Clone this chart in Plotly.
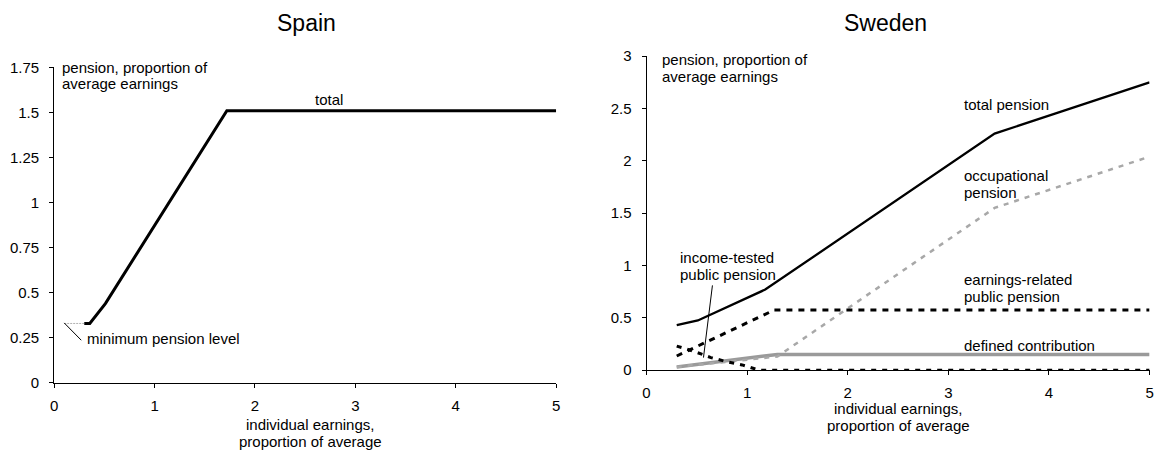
import plotly.graph_objects as go

# ---------------- data ----------------
# Spain
spain_x = [0.30, 0.355, 0.51, 1.72, 5.0]
spain_total = [0.33, 0.33, 0.44, 1.51, 1.51]
spain_min_x = [0.10, 0.30]
spain_min_level = [0.33, 0.33]

# Sweden
swe_total_x = [0.30, 0.51, 1.18, 3.46, 5.0]
swe_total = [0.43, 0.475, 0.77, 2.26, 2.75]
swe_occ_x = [0.30, 1.30, 3.46, 5.0]
swe_occ = [0.03, 0.13, 1.55, 2.04]
swe_dc_x = [0.30, 1.30, 5.0]
swe_dc = [0.03, 0.15, 0.15]
swe_earn_x = [0.30, 1.27, 5.0]
swe_earn = [0.135, 0.575, 0.575]
swe_inc_x = [0.30, 0.47, 0.64, 0.80, 0.95, 1.12, 5.0]
swe_inc = [0.23, 0.18, 0.12, 0.08, 0.05, 0.0, 0.0]

spain_yticks = [0, 0.25, 0.5, 0.75, 1, 1.25, 1.5, 1.75]
spain_ytext = ["0", "0.25", "0.5", "0.75", "1", "1.25", "1.5", "1.75"]
swe_yticks = [0, 0.5, 1, 1.5, 2, 2.5, 3]
swe_ytext = ["0", "0.5", "1", "1.5", "2", "2.5", "3"]
xticks = [0, 1, 2, 3, 4, 5]
xtext = ["0", "1", "2", "3", "4", "5"]

FONT = "Arial, Liberation Sans, sans-serif"
FS = 15
W, H = 1161, 460
GRAY = "#9a9a9a"

fig = go.Figure()

# Spain traces
fig.add_trace(go.Scatter(x=spain_min_x, y=spain_min_level, mode="lines",
                         line=dict(color="#b0b0b0", width=1, dash="2px,1px"),
                         xaxis="x", yaxis="y", cliponaxis=False, showlegend=False))
fig.add_trace(go.Scatter(x=spain_x, y=spain_total, mode="lines",
                         line=dict(color="black", width=3),
                         xaxis="x", yaxis="y", cliponaxis=False, showlegend=False))

# Sweden traces
fig.add_trace(go.Scatter(x=swe_dc_x, y=swe_dc, mode="lines",
                         line=dict(color=GRAY, width=3.5),
                         xaxis="x2", yaxis="y2", cliponaxis=False, showlegend=False))
fig.add_trace(go.Scatter(x=swe_occ_x, y=swe_occ, mode="lines",
                         line=dict(color="#a8a8a8", width=2.5, dash="5px,6px"),
                         xaxis="x2", yaxis="y2", cliponaxis=False, showlegend=False))
fig.add_trace(go.Scatter(x=swe_inc_x, y=swe_inc, mode="lines",
                         line=dict(color="black", width=3, dash="5px,6px"),
                         xaxis="x2", yaxis="y2", cliponaxis=False, showlegend=False))
fig.add_trace(go.Scatter(x=swe_earn_x, y=swe_earn, mode="lines",
                         line=dict(color="black", width=3, dash="6px,6px"),
                         xaxis="x2", yaxis="y2", cliponaxis=False, showlegend=False))
fig.add_trace(go.Scatter(x=swe_total_x, y=swe_total, mode="lines",
                         line=dict(color="black", width=2.3),
                         xaxis="x2", yaxis="y2", cliponaxis=False, showlegend=False))

axis_common = dict(showgrid=False, zeroline=False, showline=True, linecolor="black",
                   linewidth=1, ticks="outside", ticklen=4, tickcolor="black",
                   tickfont=dict(family=FONT, size=FS, color="black"), fixedrange=True)

fig.update_layout(
    width=W, height=H,
    margin=dict(l=0, r=0, t=0, b=0),
    paper_bgcolor="white", plot_bgcolor="white",
    font=dict(family=FONT, size=FS, color="black"),
    xaxis=dict(domain=[50.5 / W, 556 / W], range=[0, 5], tickvals=xticks, ticktext=xtext,
               anchor="y", ticklabelstandoff=5, **axis_common),
    yaxis=dict(domain=[(H - 388.3) / H, (H - 60.7) / H], range=[0, 1.75],
               tickvals=spain_yticks, ticktext=spain_ytext, anchor="x",
               ticklabelstandoff=7, **axis_common),
    xaxis2=dict(domain=[647 / W, 1153.5 / W], range=[0, 5], tickvals=xticks, ticktext=xtext,
                anchor="y2", ticklabelstandoff=5, **axis_common),
    yaxis2=dict(domain=[(H - 375) / H, (H - 49) / H], range=[0, 3],
                tickvals=swe_yticks, ticktext=swe_ytext, anchor="x2",
                ticklabelstandoff=7, **axis_common),
)


def label(text, x, y, xref, yref, xanchor="left", size=FS):
    fig.add_annotation(text=text, x=x, y=y, xref=xref, yref=yref, xanchor=xanchor,
                       yanchor="middle", showarrow=False,
                       font=dict(family=FONT, size=size, color="black"))


def py(px):
    return 1 - px / H


# titles
label("Spain", 305 / W, py(15), "paper", "paper", "center", 23)
label("Sweden", 888 / W, py(15), "paper", "paper", "center", 23)

# Spain labels
label("pension, proportion of", 0.061, py(60.7), "x", "paper")
label("average earnings", 0.061, py(77.3), "x", "paper")
label("total", 2.74, 1.57, "x", "y", "center")
label("minimum pension level", 0.31, 0.248, "x", "y")
label("individual earnings,", 2.55, py(431.7), "x", "paper", "center")
label("proportion of average", 2.55, py(449.3), "x", "paper", "center")
fig.add_shape(type="line", x0=0.10, y0=0.333, x1=0.27, y1=0.237, xref="x", yref="y",
              line=dict(color="black", width=1))

# Sweden labels
label("pension, proportion of", 0.135, 2.97, "x2", "y2")
label("average earnings", 0.135, 2.81, "x2", "y2")
label("income-tested", 0.31, 1.075, "x2", "y2")
label("public pension", 0.31, 0.912, "x2", "y2")
label("total pension", 3.14, 2.54, "x2", "y2")
label("occupational", 3.14, 1.857, "x2", "y2")
label("pension", 3.14, 1.695, "x2", "y2")
label("earnings-related", 3.14, 0.866, "x2", "y2")
label("public pension", 3.14, 0.70, "x2", "y2")
label("defined contribution", 3.14, 0.24, "x2", "y2")
label("individual earnings,", 2.50, py(415), "x2", "paper", "center")
label("proportion of average", 2.50, py(432), "x2", "paper", "center")
fig.add_shape(type="line", x0=0.655, y0=0.81, x1=0.566, y1=0.12, xref="x2", yref="y2",
              line=dict(color="black", width=1))

fig.write_html("out.html", config={"displayModeBar": False},
               post_script="document.body.style.margin='0';")
